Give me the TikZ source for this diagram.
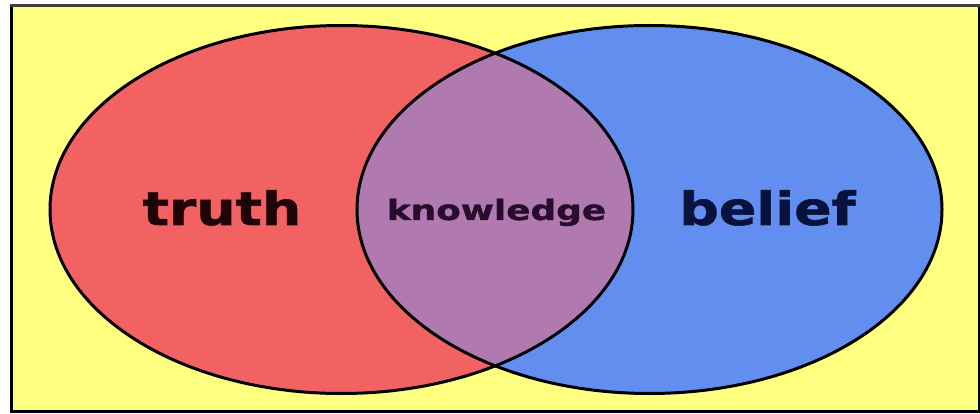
\documentclass[tikz,border=0pt]{standalone}
\usepackage{fontspec}
\newfontfamily\vennfont{DejaVu Sans}[BoldFeatures={FakeBold=1.2}]
\usepackage{tikz}

\definecolor{paper}{RGB}{255,255,128}
\definecolor{truthred}{RGB}{242,98,98}
\definecolor{beliefblue}{RGB}{98,142,240}
\definecolor{overlap}{RGB}{176,122,176}
\definecolor{truthink}{RGB}{30,4,8}
\definecolor{beliefink}{RGB}{8,18,60}
\definecolor{knowink}{RGB}{40,12,44}
\definecolor{frametop}{RGB}{70,60,60}

\begin{document}
\begin{tikzpicture}[x=1pt,y=-1pt]
			\tikzstyle{every node}+=[inner sep=0pt, font=\vennfont\bfseries]
			\tikzstyle{bigword}=[anchor=base, xscale=1.2, font=\vennfont\bfseries\fontsize{46}{50}\selectfont]
			\tikzstyle{smallword}=[anchor=base, xscale=1.28, font=\vennfont\bfseries\fontsize{28}{30}\selectfont]
			\useasboundingbox (0,0) rectangle (980,414);
			\fill [white] (0,0) rectangle (980,414);
			\draw [black, line width=3pt, fill=paper] (11,6) rectangle (979,411);
			\draw [frametop, line width=3pt] (9.5,6) -- (980,6);
			% the two sets
			\fill [truthred] (341.5,209.5) ellipse (291.5 and 184);
			\fill [beliefblue] (649.5,209.5) ellipse (292.5 and 184);
			\begin{scope}
				\clip (341.5,209.5) ellipse (291.5 and 184);
				\fill [overlap] (649.5,209.5) ellipse (292.5 and 184);
			\end{scope}
			\draw [black, line width=3pt] (341.5,209.5) ellipse (291.5 and 184);
			\draw [black, line width=3pt] (649.5,209.5) ellipse (292.5 and 184);
			% labels
			\node [bigword, text=truthink] (truth) at (222,225) {truth};
			\node [bigword, text=beliefink] (belief) at (767.5,225) {belief};
			\node [smallword, text=knowink] (knowledge) at (496.5,220) {knowledge};
\end{tikzpicture}
\end{document}
